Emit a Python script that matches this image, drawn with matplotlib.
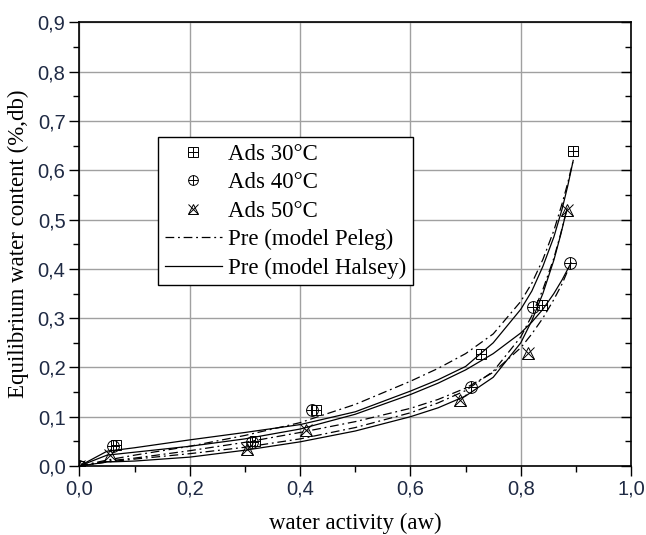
import matplotlib
matplotlib.use("Agg")
import matplotlib.pyplot as plt
from matplotlib.lines import Line2D
from matplotlib.ticker import MultipleLocator, FuncFormatter

# ---------------- data ----------------
# experimental adsorption points
aw_30 = [0.0, 0.067, 0.318, 0.428, 0.727, 0.838, 0.894]
m_30 = [0.0, 0.043, 0.051, 0.113, 0.227, 0.326, 0.640]
aw_40 = [0.0, 0.061, 0.312, 0.421, 0.709, 0.823, 0.889]
m_40 = [0.0, 0.040, 0.049, 0.113, 0.161, 0.322, 0.411]
aw_50 = [0.0, 0.055, 0.303, 0.410, 0.689, 0.813, 0.883]
m_50 = [0.0, 0.022, 0.035, 0.073, 0.134, 0.229, 0.519]

# model curves
aw_c30 = [0.0, 0.05, 0.1, 0.2, 0.3, 0.4, 0.5, 0.6, 0.65, 0.7, 0.75, 0.8, 0.82, 0.84, 0.86, 0.875, 0.885, 0.895]
halsey_30 = [0.0, 0.030, 0.037, 0.053, 0.068, 0.084, 0.110, 0.152, 0.175, 0.202, 0.250, 0.318, 0.355, 0.405, 0.465, 0.522, 0.568, 0.620]
peleg_30 = [0.0, 0.012, 0.022, 0.040, 0.062, 0.088, 0.125, 0.172, 0.198, 0.228, 0.268, 0.334, 0.371, 0.419, 0.478, 0.533, 0.574, 0.620]

aw_c40 = [0.0, 0.05, 0.1, 0.2, 0.3, 0.4, 0.5, 0.6, 0.65, 0.7, 0.75, 0.8, 0.82, 0.84, 0.86, 0.875, 0.891]
halsey_40 = [0.0, 0.022, 0.028, 0.040, 0.055, 0.075, 0.105, 0.145, 0.168, 0.195, 0.228, 0.270, 0.292, 0.318, 0.350, 0.378, 0.412]
peleg_40 = [0.0, 0.010, 0.016, 0.031, 0.048, 0.068, 0.090, 0.117, 0.135, 0.158, 0.190, 0.240, 0.268, 0.300, 0.338, 0.370, 0.412]

aw_c50 = [0.0, 0.05, 0.1, 0.2, 0.3, 0.4, 0.5, 0.6, 0.65, 0.7, 0.75, 0.8, 0.82, 0.84, 0.86, 0.872, 0.884]
halsey_50 = [0.0, 0.008, 0.010, 0.018, 0.032, 0.049, 0.071, 0.100, 0.118, 0.142, 0.180, 0.250, 0.295, 0.350, 0.418, 0.468, 0.523]
peleg_50 = [0.0, 0.008, 0.014, 0.025, 0.038, 0.055, 0.078, 0.108, 0.128, 0.153, 0.192, 0.262, 0.305, 0.358, 0.422, 0.470, 0.523]

labels = ["Ads 30°C", "Ads 40°C", "Ads 50°C", "Pre (model Peleg)", "Pre (model Halsey)"]
xlabel = "water activity (aw)"
ylabel = "Equilibrium water content (%,db)"

# ---------------- figure ----------------
serif = ["Liberation Serif", "DejaVu Serif"]
sans = ["Liberation Sans", "DejaVu Sans"]

fig = plt.figure(figsize=(6.46, 5.35), dpi=100)
ax = fig.add_axes([0.123, 0.129, 0.854, 0.829])

lw = 0.9
dashdot = (0, (7, 3, 1.5, 3))
for aw, h in [(aw_c30, halsey_30), (aw_c40, halsey_40), (aw_c50, halsey_50)]:
    ax.plot(aw, h, color="black", lw=lw, ls="-", zorder=3)
for aw, p in [(aw_c30, peleg_30), (aw_c40, peleg_40), (aw_c50, peleg_50)]:
    ax.plot(aw, p, color="black", lw=lw, ls=dashdot, zorder=3)

ms = 8.5
mk = dict(ls="none", color="black", mfc="none", mew=0.7, zorder=4)
ax.plot(aw_30, m_30, marker="s", ms=ms * 0.9, **mk)
ax.plot(aw_30, m_30, marker="+", ms=ms * 0.9, **mk)
ax.plot(aw_40, m_40, marker="o", ms=ms, **mk)
ax.plot(aw_40, m_40, marker="+", ms=ms, **mk)
ax.plot(aw_50, m_50, marker="^", ms=ms * 1.1, **mk)
ax.plot(aw_50, m_50, marker="x", ms=ms * 1.1, **mk)

ax.set_xlim(0, 1.0)
ax.set_ylim(0, 0.9)
ax.xaxis.set_major_locator(MultipleLocator(0.2))
ax.xaxis.set_minor_locator(MultipleLocator(0.1))
ax.yaxis.set_major_locator(MultipleLocator(0.1))
ax.yaxis.set_minor_locator(MultipleLocator(0.05))
fmt = FuncFormatter(lambda v, p: f"{v:.1f}".replace(".", ","))
ax.xaxis.set_major_formatter(fmt)
ax.yaxis.set_major_formatter(fmt)
ax.grid(True, which="major", color="#a0a0a0", lw=1.0, zorder=0)
ax.set_axisbelow(True)

ax.tick_params(which="major", direction="out", length=7, width=1.0, labelsize=14.5, pad=3)
ax.tick_params(which="minor", direction="out", length=4, width=1.0)
ax.tick_params(which="both", top=False, right=True)
for lab in ax.get_xticklabels() + ax.get_yticklabels():
    lab.set_fontfamily(sans)
    lab.set_color("#1f2a44")
# right ticks inward
for t in ax.yaxis.get_major_ticks() + ax.yaxis.get_minor_ticks():
    t.tick2line.set_marker(matplotlib.lines.TICKLEFT)
for sp in ax.spines.values():
    sp.set_linewidth(1.2)

ax.set_xlabel(xlabel, fontsize=16.5, fontfamily=serif, labelpad=10)
ax.set_ylabel(ylabel, fontsize=16.5, fontfamily=serif, labelpad=6)

kw = dict(color="black", mfc="none", mew=0.7, ls="none")
h30 = (Line2D([], [], marker="s", ms=6.5, **kw), Line2D([], [], marker="+", ms=6.5, **kw))
h40 = (Line2D([], [], marker="o", ms=7, **kw), Line2D([], [], marker="+", ms=7, **kw))
h50 = (Line2D([], [], marker="^", ms=7.5, **kw), Line2D([], [], marker="x", ms=7.5, **kw))
hP = Line2D([], [], color="black", lw=lw, ls=dashdot)
hH = Line2D([], [], color="black", lw=lw, ls="-")
leg = ax.legend([h30, h40, h50, hP, hH], labels, loc="upper left",
                bbox_to_anchor=(0.142, 0.742), prop={"family": serif, "size": 16.5},
                frameon=True, fancybox=False, edgecolor="black", framealpha=1,
                handlelength=2.5, handletextpad=0.25, labelspacing=0.32,
                borderpad=0.3, borderaxespad=0.0)
leg.get_frame().set_linewidth(1.0)

fig.savefig("out.png", dpi=100)
